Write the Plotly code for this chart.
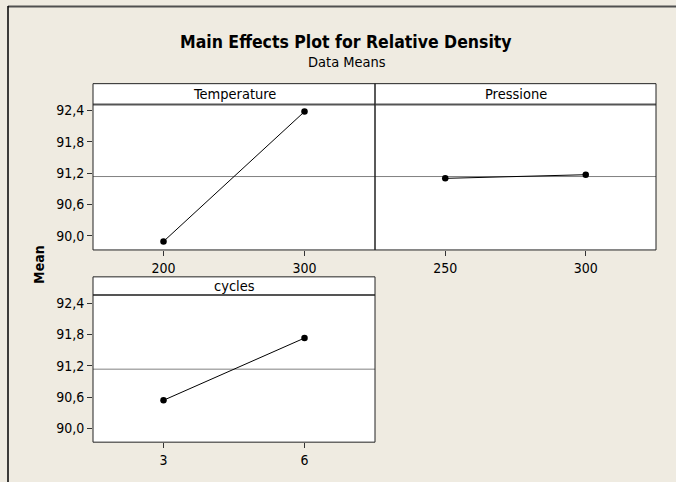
import numpy as np
import plotly.graph_objects as go

# ---------------- data ----------------
factor_names = ["Temperature", "Pressione", "cycles"]
temperature_levels = [200, 300]
temperature_means = [89.89, 92.38]
pressione_levels = [250, 300]
pressione_means = [91.10, 91.17]
cycles_levels = [3, 6]
cycles_means = [90.54, 91.73]
y_tick_values = [90.0, 90.6, 91.2, 91.8, 92.4]
y_tick_labels = ["90,0", "90,6", "91,2", "91,8", "92,4"]
grand_mean = float(np.mean(temperature_means))

W, H = 676, 482
FONT = "Tahoma, DejaVu Sans Condensed, DejaVu Sans"
BG = "#EFEBE1"


def fx(px):
    return px / W


def fy(px):
    return 1 - px / H


# panel geometry in pixels: (x0, x1, strip_top, plot_top, plot_bottom)
panels = [
    (93, 375, 82, 103, 249),
    (375, 656, 82, 103, 249),
    (93, 375, 276, 294.3, 442),
]
x_ranges = [[150, 350], [225, 325], [1.5, 7.5]]
y_ranges = [[89.727, 92.515], [89.727, 92.515], [89.739, 92.552]]
levels = [temperature_levels, pressione_levels, cycles_levels]
means = [temperature_means, pressione_means, cycles_means]

fig = go.Figure()
shapes = []
annotations = []

for i, (x0, x1, st, pt, pb) in enumerate(panels):
    n = "" if i == 0 else str(i + 1)
    fig.add_trace(go.Scatter(
        x=levels[i], y=means[i], mode="lines+markers",
        line=dict(color="black", width=1),
        marker=dict(color="black", size=6.5),
        xaxis="x" + n, yaxis="y" + n, showlegend=False,
        hoverinfo="skip",
    ))
    show_y = i != 1
    fig.update_layout(**{
        "xaxis" + n: dict(
            domain=[fx(x0), fx(x1)], range=x_ranges[i], anchor="y" + n,
            tickvals=levels[i], ticktext=[str(v) for v in levels[i]],
            ticks="outside", ticklen=5, tickcolor="#333", tickwidth=1,
            showgrid=False, zeroline=False, showline=False,
            tickfont=dict(family=FONT, size=14, color="black"),
            fixedrange=True,
        ),
        "yaxis" + n: dict(
            domain=[fy(pb), fy(pt)], range=y_ranges[i], anchor="x" + n,
            tickvals=y_tick_values if show_y else [],
            ticktext=y_tick_labels if show_y else [],
            showticklabels=show_y,
            ticks="outside" if show_y else "", ticklen=5, tickcolor="#333",
            tickwidth=1,
            showgrid=False, zeroline=False, showline=False,
            tickfont=dict(family=FONT, size=14, color="black"),
            fixedrange=True,
        ),
    })
    # grand mean reference line
    shapes.append(dict(type="line", xref="x" + n + " domain", yref="y" + n,
                       x0=0, x1=1, y0=grand_mean, y1=grand_mean,
                       line=dict(color="#808080", width=1), layer="below"))
    # strip
    shapes.append(dict(type="rect", xref="paper", yref="paper",
                       x0=fx(x0), x1=fx(x1), y0=fy(pt), y1=fy(st),
                       fillcolor="white", line=dict(width=0), layer="below"))
    # strip separator
    shapes.append(dict(type="line", xref="paper", yref="paper",
                       x0=fx(x0), x1=fx(x1), y0=fy(pt), y1=fy(pt),
                       line=dict(color="#555555", width=2), layer="above"))
    # panel box
    shapes.append(dict(type="rect", xref="paper", yref="paper",
                       x0=fx(x0), x1=fx(x1), y0=fy(pb), y1=fy(st),
                       line=dict(color="#222222", width=1), layer="above"))
    annotations.append(dict(text=factor_names[i], xref="paper", yref="paper",
                            x=fx((x0 + x1) / 2), y=fy((st + pt) / 2),
                            showarrow=False, xanchor="center", yanchor="middle",
                            font=dict(family=FONT, size=14.5, color="black")))

# outer frame (top and left edges only)
shapes.append(dict(type="line", xref="paper", yref="paper",
                   x0=fx(8), x1=fx(676), y0=fy(4.5), y1=fy(4.5),
                   line=dict(color="#505050", width=2)))
shapes.append(dict(type="line", xref="paper", yref="paper",
                   x0=fx(8), x1=fx(8), y0=fy(482), y1=fy(4),
                   line=dict(color="black", width=1.5)))

annotations += [
    dict(text="<b>Main Effects Plot for Relative Density</b>", xref="paper",
         yref="paper", x=fx(346), y=fy(40), showarrow=False,
         xanchor="center", yanchor="middle",
         font=dict(family=FONT, size=17.5, color="black")),
    dict(text="Data Means", xref="paper", yref="paper", x=fx(347), y=fy(60),
         showarrow=False, xanchor="center", yanchor="middle",
         font=dict(family=FONT, size=14.5, color="black")),
    dict(text="<b>Mean</b>", xref="paper", yref="paper", x=fx(39), y=fy(264),
         showarrow=False, xanchor="center", yanchor="middle", textangle=-90,
         font=dict(family=FONT, size=14, color="black")),
]

fig.update_layout(
    width=W, height=H, margin=dict(l=0, r=0, t=0, b=0),
    paper_bgcolor=BG, plot_bgcolor="white",
    shapes=shapes, annotations=annotations, showlegend=False,
)

fig.write_html(
    "out.html",
    config={"displayModeBar": False},
    post_script="document.body.style.margin='0';"
                "document.body.style.overflow='hidden';"
                "document.documentElement.style.overflow='hidden';",
)
